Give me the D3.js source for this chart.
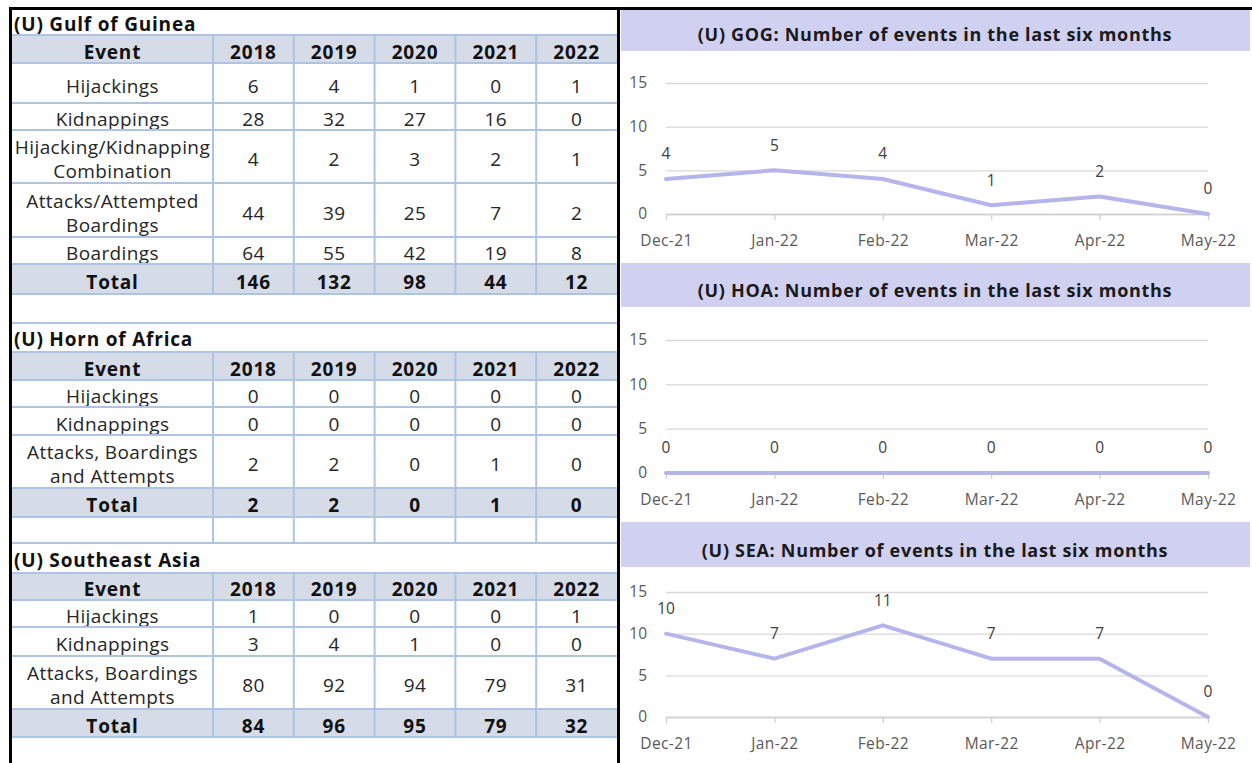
<!DOCTYPE html>
<html>
<head>
<meta charset="utf-8">
<script src="https://cdn.jsdelivr.net/npm/d3@7"></script>
<style>
  body { margin: 0; background: #fff; }
  svg { display: block; font-family: "Open Sans", sans-serif; }
</style>
</head>
<body>
<div class="container"></div>
<script>
////////////////////////////////////////////////////////////////
// DATA
////////////////////////////////////////////////////////////////
var years = ["2018", "2019", "2020", "2021", "2022"];

var gogEvents = ["Hijackings", "Kidnappings", "Hijacking/Kidnapping\nCombination", "Attacks/Attempted\nBoardings", "Boardings"];
var gogValues = [[6, 4, 1, 0, 1], [28, 32, 27, 16, 0], [4, 2, 3, 2, 1], [44, 39, 25, 7, 2], [64, 55, 42, 19, 8]];
var gogTotals = [146, 132, 98, 44, 12];

var hoaEvents = ["Hijackings", "Kidnappings", "Attacks, Boardings\nand Attempts"];
var hoaValues = [[0, 0, 0, 0, 0], [0, 0, 0, 0, 0], [2, 2, 0, 1, 0]];
var hoaTotals = [2, 2, 0, 1, 0];

var seaEvents = ["Hijackings", "Kidnappings", "Attacks, Boardings\nand Attempts"];
var seaValues = [[1, 0, 0, 0, 1], [3, 4, 1, 0, 0], [80, 92, 94, 79, 31]];
var seaTotals = [84, 96, 95, 79, 32];

var months = ["Dec-21", "Jan-22", "Feb-22", "Mar-22", "Apr-22", "May-22"];
var gogMonthly = [4, 5, 4, 1, 2, 0];
var hoaMonthly = [0, 0, 0, 0, 0, 0];
var seaMonthly = [10, 7, 11, 7, 7, 0];
var yTicks = [0, 5, 10, 15];

////////////////////////////////////////////////////////////////
// STYLE
////////////////////////////////////////////////////////////////
var gridBlue = "#adc4e4";
var headFill = "#d5dbe7";
var bandFill = "#d0d0f0";
var lineColor = "#b5b5ec";
var textDark = "#262626";

////////////////////////////////////////////////////////////////
// CREATE STAGE
////////////////////////////////////////////////////////////////
function makeStage(w, h) {
	var svg = d3.select(".container")
		.append("svg")
		.attr("width", w)
		.attr("height", h);
	return svg;
}

////////////////////////////////////////////////////////////////
// TABLES
////////////////////////////////////////////////////////////////
var tblLeft = 12, tblRight = 617, eventRight = 213;
var col = d3.scaleBand().domain(years).range([eventRight, tblRight]);

function hline(g, y, x1, x2) {
	g.append("line")
		.attr("x1", x1).attr("x2", x2)
		.attr("y1", y).attr("y2", y)
		.attr("stroke", gridBlue)
		.attr("stroke-width", 2);
}

function vline(g, x, y1, y2) {
	g.append("line")
		.attr("x1", x).attr("x2", x)
		.attr("y1", y1).attr("y2", y2)
		.attr("stroke", gridBlue)
		.attr("stroke-width", 2);
}

function cellText(g, x, yc, txt, bold) {
	var lines = String(txt).split("\n");
	var t = g.append("text")
		.attr("x", x)
		.attr("text-anchor", "middle")
		.attr("font-size", 19)
		.attr("letter-spacing", bold ? 0.8 : 0.4)
		.attr("font-weight", bold ? 700 : 400)
		.attr("fill", bold ? "#111" : textDark);
	lines.forEach(function(l, i) {
		t.append("tspan")
			.attr("x", x)
			.attr("y", yc + 3 + (i - (lines.length - 1) / 2) * 24)
			.attr("dy", "0.35em")
			.text(l);
	});
}

function drawTable(svg, top, title, events, values, totals, titleH, headH, rowHs, totalH) {
	var g = svg.append("g");

	// title row
	g.append("text")
		.attr("x", 14)
		.attr("y", top + titleH / 2 + 2)
		.attr("dy", "0.35em")
		.attr("font-size", 19)
		.attr("letter-spacing", 0.8)
		.attr("font-weight", 700)
		.attr("fill", "#111")
		.text(title);

	// header row
	var y = top + titleH;
	g.append("rect")
		.attr("x", tblLeft).attr("y", y)
		.attr("width", tblRight - tblLeft).attr("height", headH)
		.attr("fill", headFill);
	cellText(g, (tblLeft + eventRight) / 2, y + headH / 2, "Event", true);
	years.forEach(function(yr) {
		cellText(g, col(yr) + col.bandwidth() / 2, y + headH / 2, yr, true);
	});

	var bounds = [y];
	y += headH;
	bounds.push(y);

	// event rows
	events.forEach(function(ev, i) {
		var h = rowHs[i];
		cellText(g, (tblLeft + eventRight) / 2, y + h / 2, ev, false);
		years.forEach(function(yr, j) {
			cellText(g, col(yr) + col.bandwidth() / 2, y + h / 2, values[i][j], false);
		});
		y += h;
		bounds.push(y);
	});

	// total row
	g.append("rect")
		.attr("x", tblLeft).attr("y", y)
		.attr("width", tblRight - tblLeft).attr("height", totalH)
		.attr("fill", headFill);
	cellText(g, (tblLeft + eventRight) / 2, y + totalH / 2, "Total", true);
	years.forEach(function(yr, j) {
		cellText(g, col(yr) + col.bandwidth() / 2, y + totalH / 2, totals[j], true);
	});
	y += totalH;
	bounds.push(y);

	bounds.forEach(function(b) { hline(g, b, tblLeft, tblRight); });
	years.forEach(function(yr) { vline(g, col(yr), bounds[0], y); });

	return y;
}

////////////////////////////////////////////////////////////////
// LINE CHARTS
////////////////////////////////////////////////////////////////
var x = d3.scalePoint().domain(months).range([666, 1208]);

function drawChart(svg, title, series, bandTop, bandBottom, yTop, yBottom) {
	var g = svg.append("g");

	g.append("rect")
		.attr("x", 621).attr("y", bandTop)
		.attr("width", 1250 - 621).attr("height", bandBottom - bandTop)
		.attr("fill", bandFill);

	g.append("text")
		.attr("x", 935)
		.attr("y", bandBottom - 16)
		.attr("dy", "0.35em")
		.attr("text-anchor", "middle")
		.attr("font-size", 18)
		.attr("letter-spacing", 0.7)
		.attr("font-weight", 700)
		.attr("fill", "#1a1a1a")
		.text(title);

	var y = d3.scaleLinear().domain([0, 15]).range([yBottom, yTop]);

	// y grid + labels
	var yAxis = g.append("g")
		.attr("transform", "translate(666,0)")
		.call(d3.axisLeft(y).tickValues(yTicks).tickSize(-(1208 - 666)).tickPadding(19));
	yAxis.select(".domain").remove();
	yAxis.selectAll("line").attr("stroke", "#d9d9d9").attr("stroke-width", 1.3);
	yAxis.selectAll("text")
		.attr("font-size", 15.5)
		.attr("font-family", "Open Sans")
		.attr("fill", "#595959");

	// x axis
	var xAxis = g.append("g")
		.attr("transform", "translate(0," + yBottom + ")")
		.call(d3.axisBottom(x).tickSize(6).tickSizeOuter(0).tickPadding(15));
	xAxis.select(".domain").attr("stroke", "#d0d0d0").attr("stroke-width", 1.3);
	xAxis.selectAll("line").attr("stroke", "#d0d0d0").attr("stroke-width", 1.3);
	xAxis.selectAll("text")
		.attr("font-size", 15.5)
		.attr("letter-spacing", 0.4)
		.attr("font-family", "Open Sans")
		.attr("fill", "#595959");

	// series line
	var line = d3.line()
		.x(function(d, i) { return x(months[i]); })
		.y(function(d) { return y(d); });
	g.append("path")
		.datum(series)
		.attr("d", line)
		.attr("fill", "none")
		.attr("stroke", lineColor)
		.attr("stroke-width", 4)
		.attr("stroke-linejoin", "round")
		.attr("stroke-linecap", "round");

	// data labels
	g.selectAll(".lbl")
		.data(series)
		.enter().append("text")
		.attr("class", "lbl")
		.attr("x", function(d, i) { return x(months[i]); })
		.attr("y", function(d) { return y(d) - 25; })
		.attr("dy", "0.35em")
		.attr("text-anchor", "middle")
		.attr("font-size", 15.5)
		.attr("fill", "#404040")
		.text(function(d) { return d; });
}

////////////////////////////////////////////////////////////////
// FRAME
////////////////////////////////////////////////////////////////
function drawFrame(svg) {
	svg.append("line")
		.attr("x1", 9).attr("x2", 1252).attr("y1", 8.5).attr("y2", 8.5)
		.attr("stroke", "#000").attr("stroke-width", 3);
	svg.append("line")
		.attr("x1", 10.5).attr("x2", 10.5).attr("y1", 7).attr("y2", 763)
		.attr("stroke", "#000").attr("stroke-width", 3);
	svg.append("line")
		.attr("x1", 618.5).attr("x2", 618.5).attr("y1", 7).attr("y2", 763)
		.attr("stroke", "#000").attr("stroke-width", 3);
}

////////////////////////////////////////////////////////////////
// BUILD
////////////////////////////////////////////////////////////////
var svg = makeStage(1252, 763);

var end1 = drawTable(svg, 10, "(U) Gulf of Guinea", gogEvents, gogValues, gogTotals, 25, 28, [40, 27, 53, 54, 27], 30);
// blank spacer row
hline(svg, 323, tblLeft, tblRight);
var end2 = drawTable(svg, 323, "(U) Horn of Africa", hoaEvents, hoaValues, hoaTotals, 29, 28, [27, 28, 53], 29);
// spacer row with column lines
years.forEach(function(yr) { vline(svg, col(yr), end2, 543); });
hline(svg, 543, tblLeft, tblRight);
drawTable(svg, 543, "(U) Southeast Asia", seaEvents, seaValues, seaTotals, 30, 27, [27, 29, 53], 28);

drawChart(svg, "(U) GOG: Number of events in the last six months", gogMonthly, 10, 51, 83, 214);
drawChart(svg, "(U) HOA: Number of events in the last six months", hoaMonthly, 263, 307, 340, 473);
drawChart(svg, "(U) SEA: Number of events in the last six months", seaMonthly, 522, 567, 592, 717);

drawFrame(svg);
</script>
</body>
</html>
